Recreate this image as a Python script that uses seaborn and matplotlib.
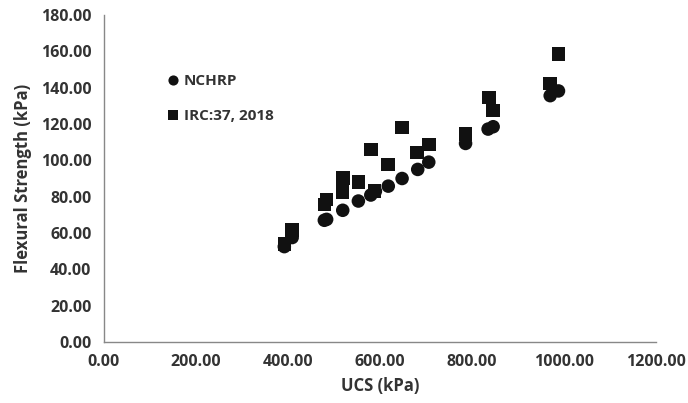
import matplotlib
matplotlib.use("Agg")
import matplotlib.pyplot as plt
import seaborn as sns
import pandas as pd
from matplotlib.ticker import FormatStrFormatter

nchrp_ucs = [392, 409, 479, 484, 519, 553, 580, 590, 618, 648, 682, 706, 786, 835, 846, 970, 988]
nchrp_fs = [52.5, 57.5, 67.0, 67.5, 72.5, 77.6, 80.9, 83.0, 85.8, 90.0, 95.0, 99.0, 109.3, 117.2, 118.5, 135.6, 138.2]
irc_ucs = [392, 409, 479, 484, 518, 520, 553, 580, 588, 617, 648, 681, 706, 786, 837, 846, 970, 988]
irc_fs = [53.8, 61.6, 75.8, 78.5, 82.5, 90.4, 88.0, 106.0, 83.1, 97.8, 118.2, 104.4, 108.8, 114.5, 134.5, 127.4, 142.4, 158.5]

series_names = ["NCHRP", "IRC:37, 2018"]

df = pd.concat([
    pd.DataFrame({"UCS": nchrp_ucs, "FS": nchrp_fs, "Method": series_names[0]}),
    pd.DataFrame({"UCS": irc_ucs, "FS": irc_fs, "Method": series_names[1]}),
])

sns.set_style("white")
plt.rcParams["font.family"] = ["Open Sans", "DejaVu Sans"]

fig = plt.figure(figsize=(6.88, 4.03), dpi=100)
ax = fig.add_axes([104 / 688, 1 - 342 / 403, (656 - 104) / 688, (342 - 15) / 403])

sns.scatterplot(data=df, x="UCS", y="FS", hue="Method", style="Method",
                markers={series_names[0]: "o", series_names[1]: "s"},
                palette={series_names[0]: "#111111", series_names[1]: "#111111"},
                s=95, edgecolor="none", linewidth=0, ax=ax, legend=True)

ax.set_xlim(0, 1200)
ax.set_ylim(0, 180)
ax.set_xticks([0, 200, 400, 600, 800, 1000, 1200])
ax.set_yticks(range(0, 181, 20))
ax.xaxis.set_major_formatter(FormatStrFormatter("%.2f"))
ax.yaxis.set_major_formatter(FormatStrFormatter("%.2f"))

txt = "#333333"
for side in ["top", "right"]:
    ax.spines[side].set_visible(False)
for side in ["left", "bottom"]:
    ax.spines[side].set_color("#888888")
    ax.spines[side].set_linewidth(1.0)
ax.tick_params(axis="both", direction="out", length=4, width=1, color="#888888",
               labelsize=11.5, labelcolor=txt, pad=5)
for lab in ax.get_xticklabels() + ax.get_yticklabels():
    lab.set_fontweight("bold")

ax.set_xlabel("UCS (kPa)", fontsize=12, fontweight="bold", color=txt, labelpad=5)
ax.set_ylabel("Flexural Strength (kPa)", fontsize=12, fontweight="bold", color=txt, labelpad=6)

leg = ax.legend(loc="upper left", bbox_to_anchor=(0.087, 0.862), frameon=False,
                fontsize=11, handlelength=1.0, handletextpad=0.2, labelspacing=1.4,
                markerscale=0.75, title=None)
for t in leg.get_texts():
    t.set_fontweight("bold")
    t.set_color(txt)

fig.savefig("out.png", dpi=100)
